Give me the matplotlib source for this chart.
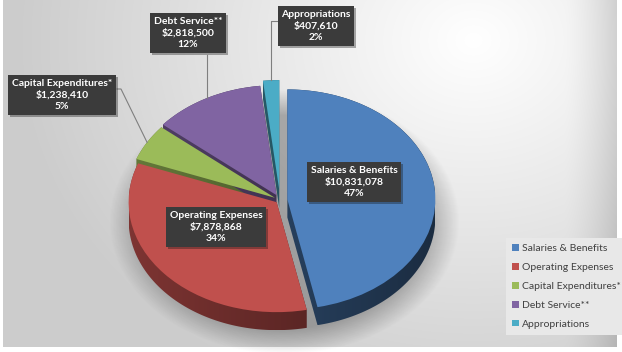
import numpy as np
import matplotlib
matplotlib.use("Agg")
import matplotlib.pyplot as plt
from matplotlib.colors import to_rgb
from matplotlib.patches import Polygon
from matplotlib.transforms import Affine2D
import matplotlib.patheffects as pe

categories = ["Salaries & Benefits", "Operating Expenses", "Capital Expenditures*",
              "Debt Service**", "Appropriations"]
amounts = [10831078, 7878868, 1238410, 2818500, 407610]
colors = ["#4f81bd", "#c0504d", "#9bbb59", "#8064a2", "#4bacc6"]
explode = [0.05, 0.03, 0.04, 0.05, 0.09]

W, H = 622, 352
CX, CY = 280, 200      # pie centre in pixels (from top-left)
RX, RY = 148, 110      # pie radii in pixels (tilted pie -> ellipse)
DEPTH = 18             # pie thickness in pixels

# label box centres in pixels, and whether the leader line is drawn
label_pos = [(354, 182), (216, 227), (62, 95), (188, 33), (316, 26)]
leaders = [False, False, True, True, True]


def convex_hull(points):
    pts = sorted(map(tuple, points))
    def cross(o, a, b):
        return (a[0] - o[0]) * (b[1] - o[1]) - (a[1] - o[1]) * (b[0] - o[0])
    lower, upper = [], []
    for p in pts:
        while len(lower) >= 2 and cross(lower[-2], lower[-1], p) <= 0:
            lower.pop()
        lower.append(p)
    for p in reversed(pts):
        while len(upper) >= 2 and cross(upper[-2], upper[-1], p) <= 0:
            upper.pop()
        upper.append(p)
    return np.array(lower[:-1] + upper[:-1])


def to_px(x, y):
    return CX + x * RX, CY - y * RY


fig = plt.figure(figsize=(W / 100, H / 100), dpi=100)
px = Affine2D().scale(1 / W, -1 / H).translate(0, 1) + fig.transFigure

# background gradient (light top-right, gray edges)
bg = fig.add_axes([3 / W, 5 / H, 614 / W, 347 / H])
yy, xx = np.mgrid[0:347, 0:614]
d = np.hypot(xx - 470, (yy - 40) * 1.2)
v = 1 - 0.2 * np.clip(d / 460, 0, 1)
v -= 0.12 * np.clip((xx - 560) / 54, 0, 1) ** 1.5
bg.imshow(np.dstack([v] * 3), aspect="auto", interpolation="bilinear")
bg.axis("off")

ax = fig.add_axes([0, 0, 1, 1])
ax.patch.set_visible(False)
wedges, _ = ax.pie(amounts, colors=colors, explode=explode, startangle=90,
                   counterclock=False, wedgeprops=dict(linewidth=0, zorder=3))

xlim = ((0 - CX) / RX, (W - CX) / RX)
ylim = ((CY - H) / RY, CY / RY)

# soft shadow under the pie
gx = np.linspace(xlim[0], xlim[1], 400)
gy = np.linspace(ylim[0], ylim[1], 300)
GX, GY = np.meshgrid(gx, gy)
rho = np.hypot((GX - 0.03) / 1.06, (GY + 0.2) / 1.08)
alpha = 0.28 * np.clip(1 - (rho - 0.9) / 0.22, 0, 1)
shadow = np.zeros(GX.shape + (4,))
shadow[..., 3] = alpha
ax.imshow(shadow, extent=(xlim[0], xlim[1], ylim[0], ylim[1]), origin="lower",
          aspect="auto", zorder=1, interpolation="bilinear")

dz = DEPTH / RY
for w, c in zip(wedges, colors):
    th = np.radians(np.linspace(w.theta1, w.theta2, 120))
    cx, cy = w.center
    arc = np.column_stack([cx + w.r * np.cos(th), cy + w.r * np.sin(th)])
    top = np.vstack([[cx, cy], arc])
    hull = convex_hull(np.vstack([top, top - [0, dz]]))
    poly = Polygon(hull, closed=True, facecolor="none", edgecolor="none",
                   transform=ax.transData)
    ax.add_patch(poly)
    x0, x1 = hull[:, 0].min(), hull[:, 0].max()
    y0, y1 = hull[:, 1].min(), hull[:, 1].max()
    xs = np.linspace(x0, x1, 128)
    f = np.clip(0.5 - 0.15 * xs, 0.3, 0.7)
    img = np.array(to_rgb(c))[None, None, :] * f[None, :, None]
    im = ax.imshow(img, extent=(x0, x1, y0, y1), aspect="auto", zorder=2,
                   interpolation="bilinear")
    im.set_clip_path(poly)

# data labels
total = sum(amounts)
for w, name, amt, (lx, ly), lead in zip(wedges, categories, amounts, label_pos, leaders):
    txt = f"{name}\n${amt:,.0f}\n{amt / total:.0%}"
    t = ax.text(lx, ly, txt, transform=px, ha="center", va="center", color="white",
                fontsize=7.5, fontweight="bold", family="Lato", linespacing=1.35,
                zorder=6,
                bbox=dict(boxstyle="square,pad=0.35", fc="#3b3b3b", ec="none"))
    t.get_bbox_patch().set_path_effects([pe.SimplePatchShadow(offset=(1.5, -1.5), alpha=0.35),
                                         pe.Normal()])
    if lead:
        mid = np.radians((w.theta1 + w.theta2) / 2)
        ex, ey = to_px(w.center[0] + w.r * np.cos(mid), w.center[1] + w.r * np.sin(mid))
        if name.startswith("Debt"):
            xs_, ys_ = [ex, ex], [ly + 22, ey]
        elif name.startswith("Appro"):
            xs_, ys_ = [lx - 37, ex, ex], [ly - 5, ly - 5, ey]
        else:
            xs_, ys_ = [lx + 55, lx + 59, ex], [ly - 6, ly - 6, ey]
        ax.plot(xs_, ys_, transform=px, color="#7f7f7f", lw=0.8, zorder=5)

leg = ax.legend(wedges, categories, loc="upper left",
                bbox_to_anchor=(506 / W, 1 - 238 / H), bbox_transform=fig.transFigure,
                frameon=True, fancybox=False, facecolor="#e8e8e8", edgecolor="none",
                framealpha=1, prop=dict(family="Lato", size=7.5),
                handlelength=0.6, handleheight=0.6, handletextpad=0.3,
                labelspacing=0.95, borderpad=0.6, borderaxespad=0)
for text in leg.get_texts():
    text.set_color("#404040")

ax.set_xlim(xlim)
ax.set_ylim(ylim)
ax.set_aspect("auto")
ax.axis("off")

fig.savefig("out.png", dpi=100, facecolor="white")
